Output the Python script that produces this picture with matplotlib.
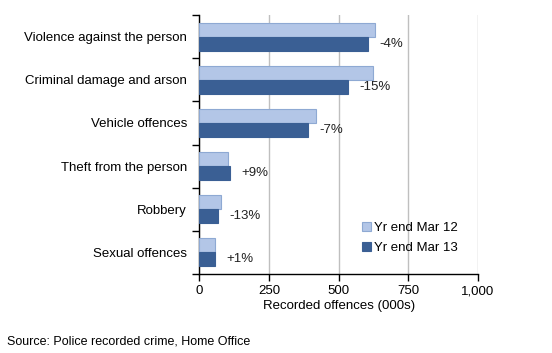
import matplotlib.pyplot as plt
import numpy as np

plt.rcParams["font.family"] = ["Liberation Sans", "DejaVu Sans"]

categories = ["Violence against the person", "Criminal damage and arson",
              "Vehicle offences", "Theft from the person", "Robbery",
              "Sexual offences"]
yr_mar12 = [629, 624, 417, 101, 76, 55]
yr_mar13 = [605, 533, 390, 110, 66, 56]
change_labels = ["-4%", "-15%", "-7%", "+9%", "-13%", "+1%"]
series_names = ["Yr end Mar 12", "Yr end Mar 13"]
x_ticks = [0, 250, 500, 750, 1000]
x_ticklabels = ["0", "250", "500", "750", "1,000"]

LIGHT = "#B3C6E7"
LIGHT_EDGE = "#8EA9D3"
DARK = "#3A5F94"
FS = 9.5

fig = plt.figure(figsize=(5.52, 3.53), dpi=100)
ax = fig.add_axes([0.3614, 0.2238, 0.5046, 0.7337])

y = np.arange(len(categories))
h = 0.326
ax.barh(y - h / 2, yr_mar12, height=h, color=LIGHT, edgecolor=LIGHT_EDGE,
        linewidth=0.8, label=series_names[0], zorder=3)
ax.barh(y + h / 2, yr_mar13, height=h, color=DARK, edgecolor=DARK,
        linewidth=0.8, label=series_names[1], zorder=3)

# change labels sit just right of the Mar 13 bar
for yi, v13, lab in zip(y, yr_mar13, change_labels):
    ax.annotate(lab, xy=(v13, yi + h / 2), xytext=(8, 0),
                textcoords="offset points", ha="left", va="center",
                fontsize=FS, color="#222222")

ax.set_xlim(0, 1000)
ax.set_ylim(len(categories) - 0.5, -0.5)
ax.set_xticks(x_ticks)
ax.set_xticklabels(x_ticklabels, fontsize=FS)
ax.set_yticks(y)
ax.set_yticklabels(categories, fontsize=FS)
ax.set_yticks(np.arange(len(categories) + 1) - 0.5, minor=True)
ax.tick_params(axis="y", which="major", length=0, pad=9)
ax.tick_params(axis="y", which="minor", length=5, width=1, direction="out")
ax.tick_params(axis="x", length=5, width=1, direction="out", pad=3)

ax.grid(axis="x", color="#BFBFBF", linewidth=1, zorder=0)
for side in ["top", "right"]:
    ax.spines[side].set_visible(False)
for side in ["left", "bottom"]:
    ax.spines[side].set_color("black")
    ax.spines[side].set_linewidth(1)

ax.set_xlabel("Recorded offences (000s)", fontsize=FS, labelpad=2)

ax.legend(loc="lower right", bbox_to_anchor=(0.97, 0.03), frameon=False,
          fontsize=FS, handlelength=0.7, handleheight=0.7, handletextpad=0.2,
          labelspacing=0.6)

fig.text(0.013, 0.015, "Source: Police recorded crime, Home Office",
         fontsize=9, ha="left", va="bottom")

fig.savefig("out.png", dpi=100)
